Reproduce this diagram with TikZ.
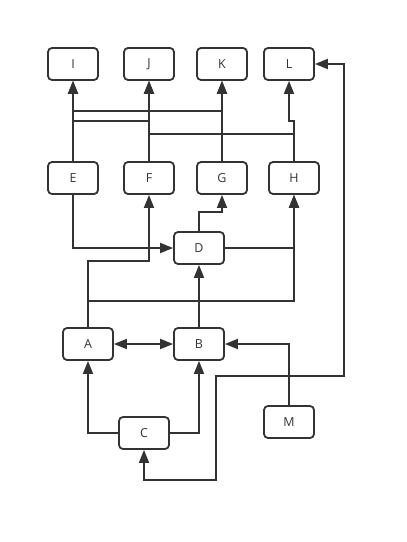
\documentclass[tikz,border=0pt]{standalone}
\usepackage{fontspec}
\setmainfont{Open Sans}
\usetikzlibrary{arrows.meta}
\definecolor{ink}{HTML}{333333}
\begin{document}
\begin{tikzpicture}[x=1bp,y=-1bp,
  box/.style={draw=ink,line width=1.8bp,rounded corners=4bp,minimum width=50bp,minimum height=32bp,
    inner sep=0pt,text=ink,font=\fontsize{12.5}{14}\selectfont},
  link/.style={draw=ink,line width=1.8bp,-{Triangle[length=13bp,width=10bp]}},
  both/.style={draw=ink,line width=1.8bp,{Triangle[length=13bp,width=10bp]}-{Triangle[length=13bp,width=10bp]}}]
\useasboundingbox (0,0) rectangle (406,542);
% top row
\node[box] (I) at (73,64) {I};
\node[box] (J) at (149,64) {J};
\node[box] (K) at (222,64) {K};
\node[box] (L) at (289,64) {L};
% second row
\node[box] (E) at (73,178) {E};
\node[box] (F) at (149,178) {F};
\node[box] (G) at (222,178) {G};
\node[box] (H) at (294,178) {H};
% middle and lower nodes
\node[box] (D) at (199,248) {D};
\node[box] (A) at (88,344) {A};
\node[box] (B) at (199,344) {B};
\node[box] (C) at (144,433) {C};
\node[box] (M) at (289,422) {M};
% connectors into the top row
\draw[link] (E.north) -- (I.south);
\draw[link] (F.north) -- (J.south);
\draw[link] (G.north) -- (K.south);
\draw[link] (H.north) |- ++(-5,-40) -- (L.south);
\draw[link] (E.north) -- ++(0,-50) -| (K.south);
\draw[link] (F.north) -- ++(0,-40) -| (I.south);
\draw[link] (H.north) -- ++(0,-27) -| (J.south);
% connectors around D
\draw[link] (E.south) |- (D.west);
\draw[link] (A.north) -- ++(0,-66) -| (F.south);
\draw[link] (A.north) -- ++(0,-26) -| (H.south);
\draw[link] (D.north) -- ++(0,-19) -| (G.south);
\draw[link] (D.east) -| (H.south);
\draw[link] (B.north) -- (D.south);
% lower connectors
\draw[both] (A.east) -- (B.west);
\draw[link] (M.north) |- (B.east);
\draw[link] (C.west) -| (A.south);
\draw[link] (C.east) -| (B.south);
\draw[both] (L.east) -| (344,376) -| (216,480) -| (C.south);
\end{tikzpicture}
\end{document}
